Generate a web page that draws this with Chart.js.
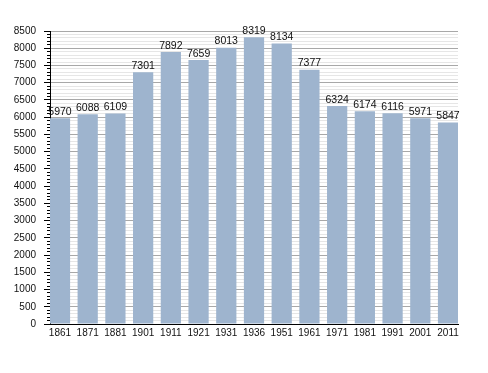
<!DOCTYPE html>
<html>
<head>
<meta charset="utf-8">
<script src="https://cdn.jsdelivr.net/npm/chart.js@4/dist/chart.umd.min.js"></script>
<style>
html,body{margin:0;padding:0;background:#fff;}
#wrap{width:488px;height:373px;position:relative;}
</style>
</head>
<body>
<div id="wrap"><canvas id="c" width="488" height="373"></canvas></div>
<script>
const years = ["1861","1871","1881","1901","1911","1921","1931","1936","1951","1961","1971","1981","1991","2001","2011"];
const population = [5970,6088,6109,7301,7892,7659,8013,8319,8134,7377,6324,6174,6116,5971,5847];
const yMin = 0, yMax = 8500, yMinorStep = 100, yLabelStep = 500;

const points = population.map((v, i) => ({x: i, y: v}));
const isMajor = (c) => c.tick && c.tick.value % yLabelStep === 0;

const valueLabels = {
  id: 'valueLabels',
  afterDatasetsDraw(chart) {
    const ctx = chart.ctx;
    const meta = chart.getDatasetMeta(0);
    ctx.save();
    ctx.font = '10.5px "Liberation Sans", Arial, sans-serif';
    ctx.fillStyle = '#111';
    ctx.textAlign = 'center';
    ctx.textBaseline = 'bottom';
    meta.data.forEach((el, i) => {
      ctx.fillText(String(population[i]), el.x, el.y - 1);
    });
    ctx.restore();
  }
};

new Chart(document.getElementById('c'), {
  type: 'bar',
  data: {
    datasets: [{
      data: points,
      backgroundColor: 'rgb(158,180,206)',
      borderWidth: 0,
      barPercentage: 0.73,
      categoryPercentage: 1
    }]
  },
  options: {
    responsive: false,
    animation: false,
    layout: {padding: {left: 0, right: 30, top: 31, bottom: 0}},
    plugins: {legend: {display: false}, tooltip: {enabled: false}},
    scales: {
      x: {
        type: 'linear',
        offset: false,
        min: -0.36,
        max: years.length - 1 + 0.36,
        afterFit(s) { s.height = 49; },
        grid: {display: false, drawTicks: false, offset: false},
        border: {display: true, color: '#000', width: 1},
        ticks: {
          stepSize: 1,
          includeBounds: false,
          autoSkip: false,
          maxRotation: 0,
          padding: 3,
          color: '#111',
          font: {family: '"Liberation Sans", Arial, sans-serif', size: 10},
          callback: (v) => Number.isInteger(v) && years[v] !== undefined ? years[v] : ''
        }
      },
      y: {
        min: yMin,
        max: yMax,
        afterFit(s) { s.width = 50; },
        border: {display: true, color: '#000', width: 1},
        grid: {
          color: (c) => isMajor(c) ? '#a8a8a8' : '#e6e6e6',
          tickColor: '#000',
          tickLength: 6,
          tickBorderDash: (c) => isMajor(c) ? [] : [3, 3],
          tickBorderDashOffset: (c) => isMajor(c) ? 0 : 3,
          drawTicks: true
        },
        ticks: {
          stepSize: yMinorStep,
          maxTicksLimit: 200,
          autoSkip: false,
          padding: 8,
          color: '#111',
          font: {family: '"Liberation Sans", Arial, sans-serif', size: 10},
          callback: (v) => v % yLabelStep === 0 ? String(v) : ''
        }
      }
    }
  },
  plugins: [valueLabels]
});
</script>
</body>
</html>
